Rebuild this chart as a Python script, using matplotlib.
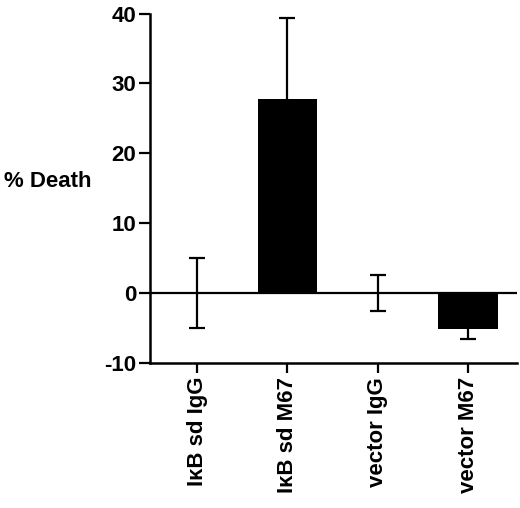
import numpy as np
import matplotlib.pyplot as plt

plt.rcParams['font.family'] = ['Liberation Sans', 'DejaVu Sans']
plt.rcParams['font.weight'] = 'bold'
plt.rcParams['axes.unicode_minus'] = False

groups = ["I\u03baB sd IgG", "I\u03baB sd M67", "vector IgG", "vector M67"]
death = [0.0, 27.7, 0.0, -5.1]
err = [5.0, 11.7, 2.6, 1.5]

fig = plt.figure(figsize=(5.2, 5.08), dpi=100)
ax = fig.add_axes([0.2885, 0.2854, 0.7055, 0.688])

x = np.arange(len(groups))
ax.bar(x, death, width=0.66, color="black", zorder=2)
ax.errorbar(x, death, yerr=err, fmt="none", ecolor="black", elinewidth=1.6,
            capsize=5.5, capthick=1.6, zorder=1)
ax.axhline(0, color="black", lw=1.6, zorder=3)

ax.set_xlim(-0.52, 3.54)
ax.set_ylim(-10, 40)
ax.set_yticks([-10, 0, 10, 20, 30, 40])
ax.set_xticks(x)
ax.set_xticklabels(groups, rotation=90, fontsize=16, fontweight="bold")
ax.tick_params(axis="y", labelsize=16, width=1.6, length=8, pad=2, direction="out")
ax.tick_params(axis="x", width=1.6, length=7, pad=3, direction="out")
for lab in ax.get_yticklabels():
    lab.set_fontweight("bold")

for s in ["top", "right"]:
    ax.spines[s].set_visible(False)
for s in ["left", "bottom"]:
    ax.spines[s].set_linewidth(1.8)

ax.set_ylabel("% Death", rotation=0, fontsize=16, fontweight="bold")
ax.yaxis.set_label_coords(-0.28, 0.518)
ax.yaxis.label.set_verticalalignment("center")
ax.yaxis.label.set_horizontalalignment("center")

fig.savefig("out.png", dpi=100)
